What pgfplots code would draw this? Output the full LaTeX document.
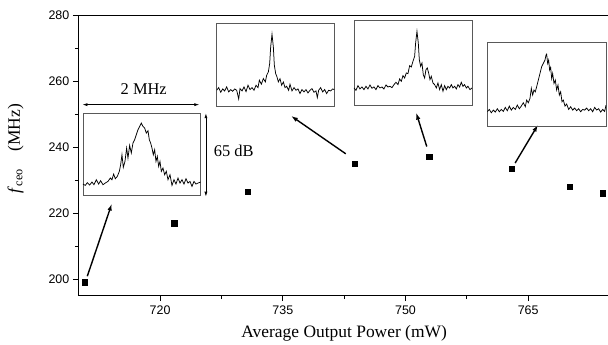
\documentclass[border=0pt]{standalone}
\usepackage{pgfplots}
\pgfplotsset{compat=1.18}
\usepackage{fontspec}
\setmainfont{Liberation Serif}
\newfontfamily\ticksans{Liberation Sans}
\usetikzlibrary{arrows.meta,calc}
\begin{document}
\begin{tikzpicture}
\begin{axis}[
  name=main,
  scale only axis,
  width=531.7bp, height=280.5bp,
  xmin=710, xmax=775, ymin=195, ymax=280,
  xtick={720,735,750,765}, ytick={200,220,240,260,280},
  minor x tick num=1, minor y tick num=1,
  xtick pos=left, ytick pos=left,
  tick align=outside,
  major tick length=5.5bp, minor tick length=3.5bp,
  axis line style={line width=1.4bp},
  every tick/.style={black, line width=0.9bp},
  tick label style={font=\ticksans\fontsize{12.5}{12.5}\selectfont},
  /pgf/number format/assume math mode=true,
  /pgf/number format/1000 sep={},
  xticklabel style={yshift=-1bp},
  xlabel={Average Output Power (mW)},
  xlabel style={at={(axis description cs:0.5,0)}, anchor=base, yshift=-41.6bp, font=\fontsize{17.5}{17.5}\selectfont},
  ylabel={\textit{f}\textsubscript{ceo}\quad(MHz)},
  ylabel style={at={(axis description cs:-0.118,0.525)}, anchor=center, font=\fontsize{17.5}{17.5}\selectfont},
  clip=false,
]
\addplot[only marks, mark=square*, mark size=2.7bp, black] coordinates {
  (710.8,199.1) (721.7,217.0) (730.7,226.5) (743.8,235.0)
  (752.9,237.1) (763.0,233.4) (770.1,228.0) (774.1,226.1)
};
\coordinate (i1) at (axis cs:710.57,225.4);
\coordinate (i2) at (axis cs:726.92,252.2);
\coordinate (i3) at (axis cs:743.7,252.6);
\coordinate (i4) at (axis cs:760.0,246.2);
\draw[-{Latex[length=7bp,width=4.5bp]}, line width=1.4bp] (axis cs:711.1,200.9) -- (axis cs:714.1,222.9);
\draw[-{Latex[length=7bp,width=4.5bp]}, line width=1.4bp] (axis cs:742.7,238.0) -- (axis cs:736.0,249.5);
\draw[-{Latex[length=7bp,width=4.5bp]}, line width=1.4bp] (axis cs:752.6,240.2) -- (axis cs:751.3,250.5);
\draw[-{Latex[length=7bp,width=4.5bp]}, line width=1.4bp] (axis cs:763.4,235.2) -- (axis cs:766.2,246.8);
\draw[{Latex[length=5bp,width=3bp]}-{Latex[length=5bp,width=3bp]}, line width=0.7bp] (axis cs:710.5,252.9) -- (axis cs:724.8,252.9);
\draw[{Latex[length=5bp,width=3bp]}-{Latex[length=5bp,width=3bp]}, line width=0.7bp] (axis cs:725.6,250.3) -- (axis cs:725.6,225.0);
\node[font=\fontsize{16.5}{16.5}\selectfont] at (axis cs:718.0,257.6) {2 MHz};
\node[font=\fontsize{16.5}{16.5}\selectfont] at (axis cs:729.0,238.8) {65 dB};
\end{axis}

\pgfplotsset{inset/.style={scale only axis, anchor=south west,
  xtick=\empty, ytick=\empty,
  axis line style={black!65, line width=0.9bp}}}

\begin{axis}[inset, at={(i1)}, width=117.7bp, height=82.3bp, xmin=15, xmax=368, ymin=-262, ymax=-15]
\addplot[black, line width=0.75bp] table[y expr=-\thisrowno{1}] {
15 228
22 232
28 224
35 231
42 222
48 230
55 215
62 228
68 218
75 230
82 225
90 220
97 210
102 215
107 198
112 212
118 205
124 190
128 170
132 140
136 178
141 160
146 120
150 150
155 112
160 135
165 105
170 95
175 80
180 65
185 55
190 45
195 55
200 60
205 75
210 68
214 95
218 105
222 120
226 140
230 125
234 160
238 145
242 175
246 160
250 190
255 180
260 200
265 190
270 215
276 200
282 232
288 215
294 228
300 210
306 225
312 215
318 228
324 212
330 225
336 220
342 235
348 220
354 228
360 225
368 222
};
\end{axis}

\begin{axis}[inset, at={(i2)}, width=117.6bp, height=83.4bp, xmin=50, xmax=403, ymin=-290, ymax=-40]
\addplot[black, line width=0.75bp] table[y expr=-\thisrowno{1}] {
50 240
56 232
62 246
68 236
74 242
80 230
86 245
92 238
98 243
104 236
110 240
116 266
120 235
126 242
132 230
138 244
144 225
150 238
156 232
162 240
168 225
174 232
178 210
184 222
190 205
196 215
200 195
205 185
209 160
212 110
216 72
220 110
223 165
227 190
231 200
235 215
240 205
245 225
250 215
255 232
260 228
266 240
270 222
276 242
282 232
288 240
294 236
300 250
306 238
312 245
318 238
324 248
330 240
336 235
342 246
348 242
352 262
356 240
362 232
368 245
374 238
380 250
386 240
392 242
398 236
403 238
};
\end{axis}

\begin{axis}[inset, at={(i3)}, width=118bp, height=85.3bp, xmin=18, xmax=372, ymin=-268, ymax=-12]
\addplot[black, line width=0.75bp] table[y expr=-\thisrowno{1}] {
18 215
24 222
30 208
36 218
42 212
48 220
54 210
60 218
66 206
72 216
78 212
84 220
90 208
96 215
102 212
108 218
114 206
120 212
126 210
132 214
138 205
144 198
150 205
155 188
160 195
165 178
170 185
175 170
180 172
185 148
190 152
195 135
200 120
203 80
207 45
211 80
214 130
218 150
222 140
226 175
230 185
234 160
238 155
242 170
246 190
250 180
255 200
260 205
265 215
270 200
275 220
280 205
285 225
290 208
295 220
300 210
305 215
310 205
315 215
320 210
325 218
330 205
335 212
340 198
345 210
350 205
355 215
360 210
366 220
372 215
};
\end{axis}

\begin{axis}[inset, at={(i4)}, width=118.7bp, height=84bp, xmin=22, xmax=378, ymin=-290, ymax=-38]
\addplot[black, line width=0.75bp] table[y expr=-\thisrowno{1}] {
22 245
28 238
34 248
40 240
46 246
52 236
58 245
64 238
70 244
76 232
82 242
88 228
94 240
100 232
106 238
112 225
118 236
124 228
130 218
136 230
140 210
145 218
150 205
154 175
158 195
162 180
166 185
170 170
175 150
180 130
185 110
190 100
195 90
198 75
200 72
203 100
206 90
209 120
212 112
215 145
218 130
222 160
226 150
230 180
234 165
238 195
242 185
246 215
250 210
255 228
260 222
266 238
272 230
278 240
284 234
290 242
296 236
302 245
308 238
314 240
320 234
326 242
332 236
338 245
344 232
350 240
356 236
362 246
368 238
374 244
378 225
};
\end{axis}

\pgfresetboundingbox
\path ($(main.south west)+(-78.3bp,-49.3bp)$) rectangle ($(main.south west)+(529.7bp,295.7bp)$);
\end{tikzpicture}
\end{document}
